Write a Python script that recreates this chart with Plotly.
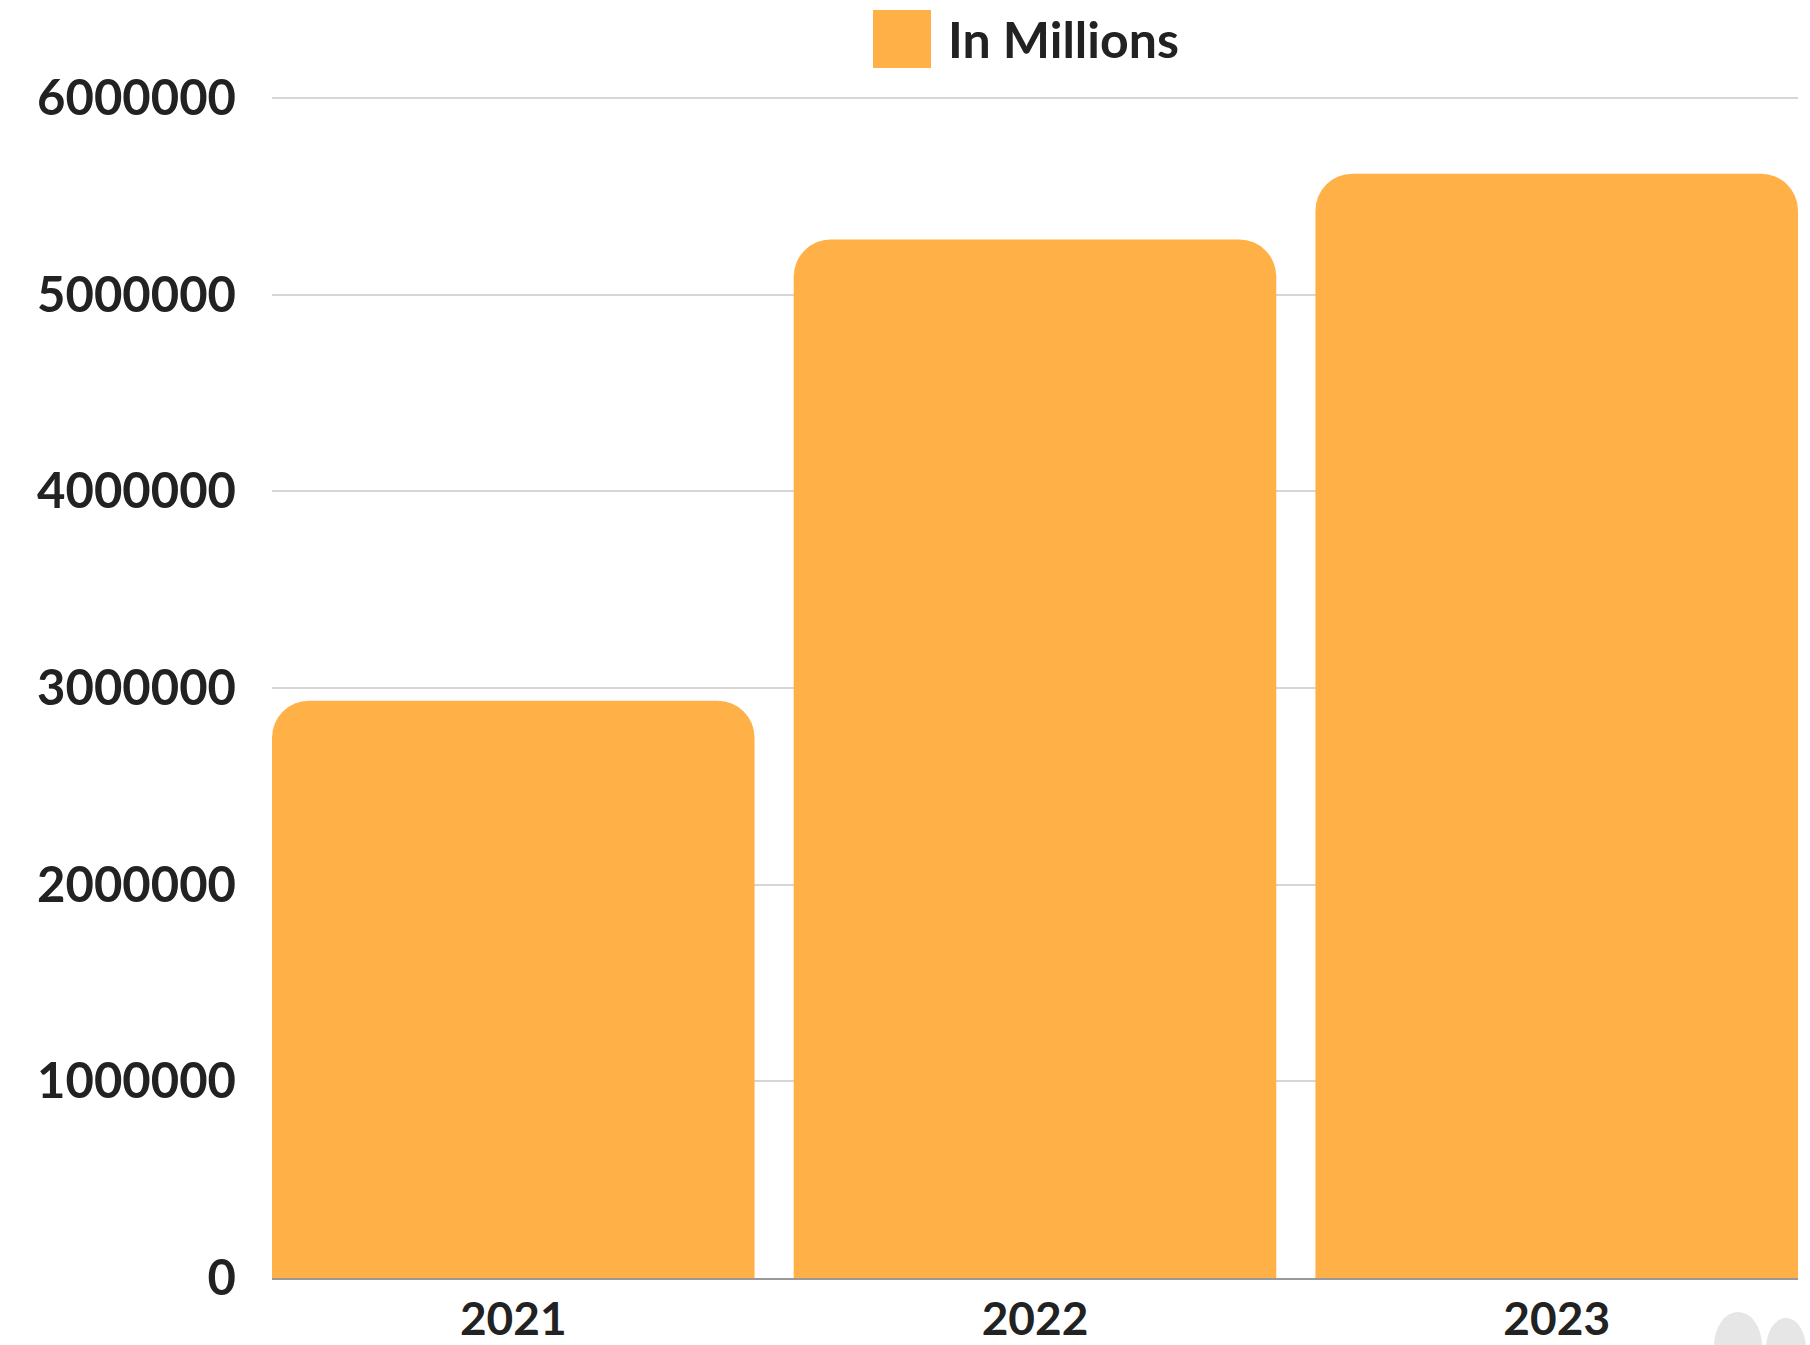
import plotly.graph_objects as go

years = ["2021", "2022", "2023"]
values = [2935000, 5280000, 5615000]
tick_vals = [0, 1000000, 2000000, 3000000, 4000000, 5000000, 6000000]
tick_text = ["0", "1000000", "2000000", "3000000", "4000000", "5000000", "6000000"]
series_name = "In Millions"

bar_color = "#FFB047"
font_family = "Lato"
gap = 0.075

W, H = 1810, 1345
L, R, T, B = 272, 12, 94, 67
y_max = 6020000

fig = go.Figure()
fig.add_trace(go.Bar(
    x=years, y=values, name=series_name,
    marker=dict(color=bar_color, line=dict(width=0), cornerradius=37),
    showlegend=False,
))

half = (1 - gap) / 2
fig.update_layout(
    width=W, height=H,
    margin=dict(l=L, r=R, t=T, b=B, pad=0, autoexpand=False),
    paper_bgcolor="white", plot_bgcolor="white",
    bargap=gap,
    font=dict(family=font_family, color="#222222", size=49, weight=700),
    xaxis=dict(
        range=[-half, len(years) - 1 + half],
        showgrid=False, showline=True, linecolor="#999999", linewidth=2,
        ticks="", tickfont=dict(size=46, family=font_family, weight=700, color="#222222"),
        ticklabelstandoff=0, automargin=False,
    ),
    yaxis=dict(
        range=[0, y_max], tickvals=tick_vals, ticktext=tick_text,
        showgrid=True, gridcolor="#d6d6d6", gridwidth=2,
        zeroline=False, showline=False, ticks="",
        tickfont=dict(size=49, family=font_family, weight=700, color="#222222"),
        ticklabelstandoff=35, automargin=False,
    ),
    showlegend=False,
)

pw = W - L - R
ph = H - T - B

def px_x(x):
    return (x - L) / pw

def px_y(y):
    return (H - B - y) / ph

# custom legend (square + label) centered above the plot area
fig.add_shape(type="rect", xref="paper", yref="paper",
              x0=px_x(873), x1=px_x(931), y0=px_y(68), y1=px_y(10),
              fillcolor=bar_color, line=dict(width=0))
fig.add_annotation(xref="paper", yref="paper",
                   x=px_x(946), y=px_y(39),
                   xanchor="left", yanchor="middle", showarrow=False,
                   text=series_name,
                   font=dict(size=50, family=font_family, color="#222222", weight=700))

# faint decorative blobs in the lower right corner
fig.add_shape(type="circle", xref="paper", yref="paper",
              x0=px_x(1714), x1=px_x(1762), y0=px_y(1380), y1=px_y(1312),
              fillcolor="#e6e6e6", line=dict(width=0), layer="below")
fig.add_shape(type="circle", xref="paper", yref="paper",
              x0=px_x(1766), x1=px_x(1806), y0=px_y(1380), y1=px_y(1318),
              fillcolor="#e6e6e6", line=dict(width=0), layer="below")

fig.write_html("out.html",
               config={"displayModeBar": False},
               post_script="document.body.style.margin='0';document.body.style.overflow='hidden';")
